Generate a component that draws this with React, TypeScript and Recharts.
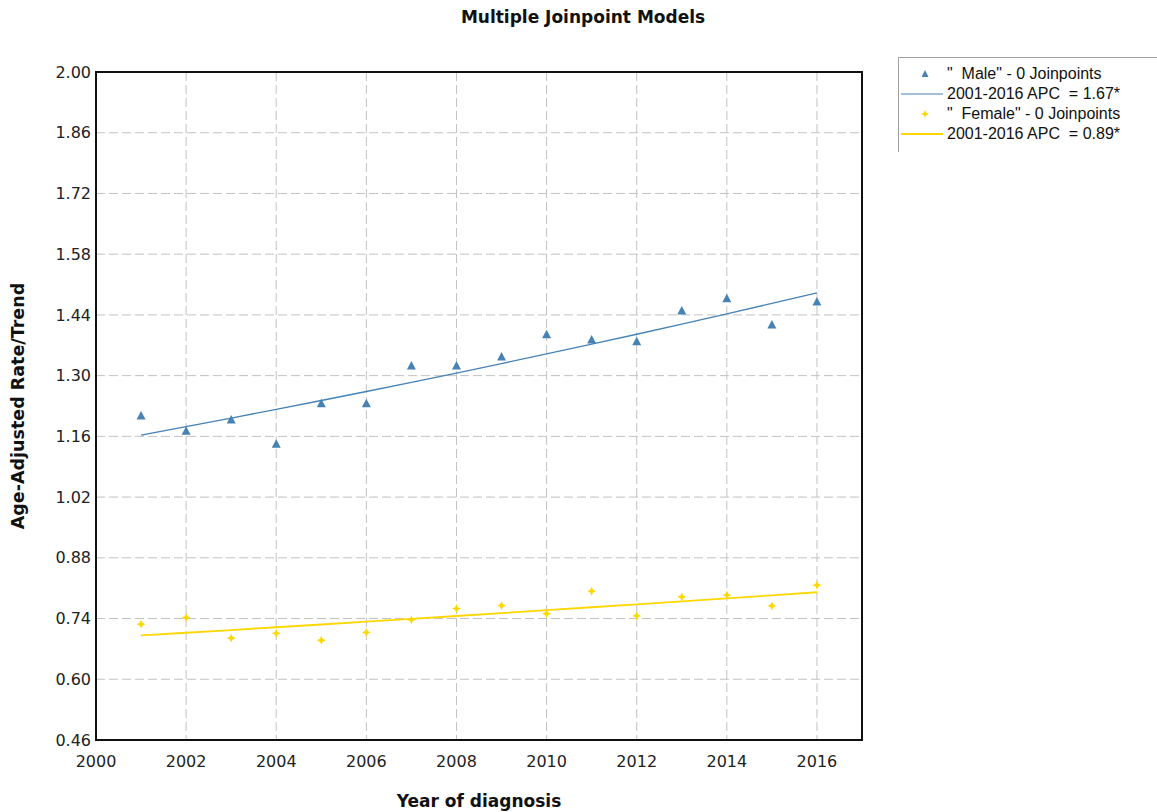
import React from "react";
import {
  ComposedChart,
  Line,
  Scatter,
  XAxis,
  YAxis,
  CartesianGrid,
  Legend,
  ReferenceArea,
} from "recharts";

const years = [2001, 2002, 2003, 2004, 2005, 2006, 2007, 2008, 2009, 2010, 2011, 2012, 2013, 2014, 2015, 2016];
const maleObserved = [1.207, 1.172, 1.198, 1.142, 1.235, 1.235, 1.322, 1.322, 1.343, 1.394, 1.382, 1.378, 1.449, 1.477, 1.417, 1.47];
const maleTrend = [1.163, 1.1824, 1.2022, 1.2222, 1.2427, 1.2634, 1.2845, 1.306, 1.3278, 1.35, 1.3725, 1.3954, 1.4187, 1.4424, 1.4665, 1.491];
const femaleObserved = [0.727, 0.742, 0.695, 0.706, 0.69, 0.708, 0.737, 0.763, 0.77, 0.751, 0.803, 0.746, 0.79, 0.794, 0.769, 0.817];
const femaleTrend = [0.701, 0.7072, 0.7135, 0.7199, 0.7263, 0.7328, 0.7393, 0.7459, 0.7525, 0.7592, 0.766, 0.7728, 0.7797, 0.7866, 0.7936, 0.8006];

const xTicks = [2000, 2002, 2004, 2006, 2008, 2010, 2012, 2014, 2016];
const yTicks = [0.46, 0.6, 0.74, 0.88, 1.02, 1.16, 1.3, 1.44, 1.58, 1.72, 1.86, 2.0];

const legendLabels = [
  '"  Male" - 0 Joinpoints',
  "2001-2016 APC  = 1.67*",
  '"  Female" - 0 Joinpoints',
  "2001-2016 APC  = 0.89*",
];

const MALE_COLOR = "#4682B4";
const FEMALE_COLOR = "#FFD700";

const data = years.map((y, i) => ({
  year: y,
  male: maleObserved[i],
  maleTrend: maleTrend[i],
  female: femaleObserved[i],
  femaleTrend: femaleTrend[i],
}));

const Triangle = (props: any) => {
  const { cx, cy } = props;
  if (cx == null || cy == null) return null;
  return (
    <path
      d={`M${cx},${cy - 5} L${cx + 4.5},${cy + 3.5} L${cx - 4.5},${cy + 3.5} Z`}
      fill={MALE_COLOR}
    />
  );
};

const Sparkle = (props: any) => {
  const { cx, cy } = props;
  if (cx == null || cy == null) return null;
  const r = 4.5;
  const s = 1.4;
  return (
    <path
      d={`M${cx},${cy - r} L${cx + s},${cy - s} L${cx + r},${cy} L${cx + s},${cy + s} L${cx},${cy + r} L${cx - s},${cy + s} L${cx - r},${cy} L${cx - s},${cy - s} Z`}
      fill={FEMALE_COLOR}
    />
  );
};

const LegendBox = () => {
  const rowH = 20;
  return (
    <div
      style={{
        borderTop: "1px solid #a0a0a0",
        borderLeft: "1px solid #a0a0a0",
        width: 259,
        height: 95,
        boxSizing: "border-box",
        paddingTop: 6,
        fontFamily: "'Liberation Sans', Arial, sans-serif",
        fontSize: 16,
        color: "#111",
      }}
    >
      {legendLabels.map((label, i) => {
        const isMarker = i % 2 === 0;
        const color = i < 2 ? MALE_COLOR : FEMALE_COLOR;
        return (
          <div key={i} style={{ height: rowH, display: "flex", alignItems: "center", whiteSpace: "pre" }}>
            <svg width={48} height={rowH} style={{ flex: "none" }}>
              {isMarker ? (
                i < 2 ? (
                  <path d="M26,6 L29.5,13 L22.5,13 Z" fill={color} />
                ) : (
                  <path d="M26,6 L27.2,8.8 L30,10 L27.2,11.2 L26,14 L24.8,11.2 L22,10 L24.8,8.8 Z" fill={color} />
                )
              ) : (
                <line x1={2} x2={44} y1={10} y2={10} stroke={color} strokeWidth={i < 2 ? 1.2 : 1.8} />
              )}
            </svg>
            <span>{label}</span>
          </div>
        );
      })}
    </div>
  );
};

export default function App() {
  return (
    <div style={{ position: "absolute", left: 0, top: 0, width: 1157, height: 812, background: "#fff" }}>
      <div
        style={{
          position: "absolute",
          left: 0,
          top: 7,
          width: 1166,
          textAlign: "center",
          fontFamily: "'DejaVu Sans', sans-serif",
          fontWeight: "bold",
          fontSize: 17,
          color: "#111",
        }}
      >
        Multiple Joinpoint Models
      </div>
      <ComposedChart
        width={1157}
        height={812}
        data={data}
        margin={{ top: 72, right: 295, left: 0, bottom: 0 }}
        style={{ position: "absolute", left: 0, top: 0 }}
      >
        <CartesianGrid stroke="#c2c2c2" strokeDasharray="9 4" horizontal vertical />
        <XAxis
          dataKey="year"
          type="number"
          domain={[2000, 2017]}
          ticks={xTicks}
          interval={0}
          allowDataOverflow
          height={72}
          tickLine={false}
          axisLine={false}
          tickSize={4}
          tickMargin={12}
          tick={{ fill: "#222", fontSize: 16, fontFamily: "'DejaVu Sans', sans-serif" }}
          label={{
            value: "Year of diagnosis",
            position: "insideBottom",
            offset: 5,
            fill: "#111",
            fontSize: 17,
            fontWeight: "bold",
            fontFamily: "'DejaVu Sans', sans-serif",
          }}
        />
        <YAxis
          type="number"
          domain={[0.46, 2.0]}
          ticks={yTicks}
          interval={0}
          allowDataOverflow
          width={96}
          tickLine={false}
          axisLine={false}
          tickSize={4}
          tickMargin={1}
          tickFormatter={(v: number) => v.toFixed(2)}
          tick={{ fill: "#222", fontSize: 16, fontFamily: "'DejaVu Sans', sans-serif" }}
          label={{
            value: "Age-Adjusted Rate/Trend",
            angle: -90,
            position: "insideLeft",
            offset: 18,
            style: { textAnchor: "middle" },
            fill: "#111",
            fontSize: 17.5,
            fontWeight: "bold",
            fontFamily: "'DejaVu Sans', sans-serif",
          }}
        />
        <ReferenceArea
          x1={2000}
          x2={2017}
          y1={0.46}
          y2={2.0}
          fill="none"
          stroke="#111"
          strokeWidth={2}
          ifOverflow="visible"
        />
        <Line
          dataKey="maleTrend"
          stroke={MALE_COLOR}
          strokeWidth={1.3}
          dot={false}
          activeDot={false}
          isAnimationActive={false}
          type="linear"
        />
        <Line
          dataKey="femaleTrend"
          stroke={FEMALE_COLOR}
          strokeWidth={1.8}
          dot={false}
          activeDot={false}
          isAnimationActive={false}
          type="linear"
        />
        <Scatter dataKey="male" shape={<Triangle />} isAnimationActive={false} />
        <Scatter dataKey="female" shape={<Sparkle />} isAnimationActive={false} />
        <Legend
          layout="vertical"
          align="center"
          verticalAlign="middle"
          content={<LegendBox />}
          wrapperStyle={{ left: 898, top: 57, width: 259 }}
        />
      </ComposedChart>
    </div>
  );
}
